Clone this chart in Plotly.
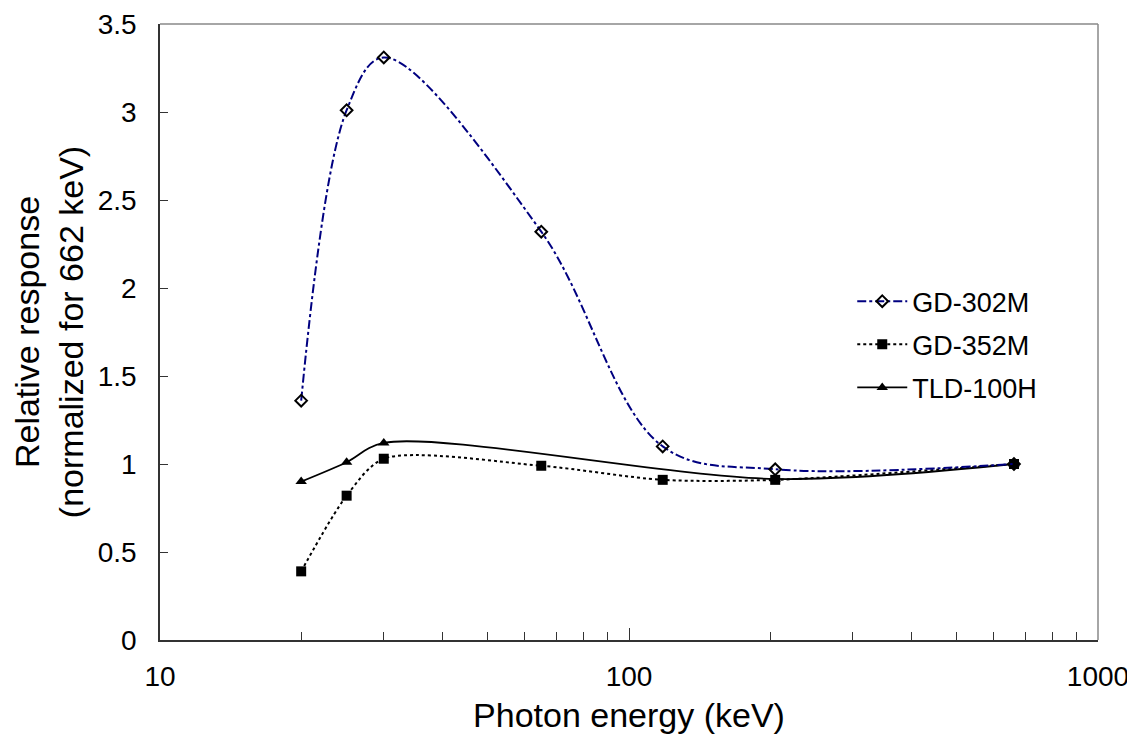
import plotly.graph_objects as go

energy = [20, 25, 30, 65, 118, 205, 662]
gd302m = [1.36, 3.01, 3.31, 2.32, 1.10, 0.97, 1.00]
gd352m = [0.39, 0.82, 1.03, 0.99, 0.91, 0.91, 1.00]
tld_energy = [20, 25, 30, 205, 662]
tld100h = [0.90, 1.01, 1.12, 0.915, 1.00]

minor_ticks = [20, 30, 40, 50, 60, 70, 80, 90, 200, 300, 400, 500, 600, 700, 800, 900]

font_family = "Liberation Sans, Arial, sans-serif"

fig = go.Figure()
# drawn first so squares sit on top of it
fig.add_trace(go.Scatter(
    x=tld_energy, y=tld100h, name="TLD-100H", mode="lines+markers",
    legendrank=3, legendgroup="c",
    line=dict(color="black", width=1.8, shape="spline", smoothing=0.9),
    marker=dict(symbol="triangle-up", size=10, color="black"),
))
fig.add_trace(go.Scatter(
    x=energy, y=gd352m, name="GD-352M", mode="lines+markers",
    legendrank=2, legendgroup="b",
    line=dict(color="black", width=2, dash="dot", shape="spline", smoothing=0.8),
    marker=dict(symbol="square", size=10, color="black"),
))
fig.add_trace(go.Scatter(
    x=energy, y=gd302m, name="GD-302M", mode="lines+markers",
    legendrank=1, legendgroup="a",
    line=dict(color="#000080", width=2, dash="dashdot", shape="spline", smoothing=1.0),
    marker=dict(symbol="diamond-open", size=9, color="black", line=dict(width=2, color="black")),
))

# page body has an 8px default margin: compensate in figure size/margins
fig.update_layout(
    width=1127, height=733,
    margin=dict(l=152, r=37, t=16, b=101, autoexpand=False),
    plot_bgcolor="white", paper_bgcolor="white",
    font=dict(family=font_family, color="black"),
    showlegend=True,
    legend=dict(x=0.738, y=0.589, xanchor="left", yanchor="top",
                font=dict(size=27, family=font_family), bgcolor="rgba(0,0,0,0)",
                tracegroupgap=5, itemwidth=50, traceorder="grouped"),
    xaxis=dict(
        type="log", range=[1, 3], automargin=False,
        showgrid=False, zeroline=False,
        showline=True, linecolor="#333333", linewidth=1.5,
        ticks="inside", ticklen=12, tickcolor="#333333",
        tickvals=[10, 100, 1000], ticktext=["10", "100", "1000"],
        tickfont=dict(size=28), ticklabelstandoff=11,
        minor=dict(ticks="inside", ticklen=8, tickcolor="#333333", tickvals=minor_ticks, showgrid=False),
        title=dict(text="Photon energy (keV)", font=dict(size=34), standoff=12),
    ),
    yaxis=dict(
        range=[0, 3.5], automargin=False,
        showgrid=False, zeroline=False,
        showline=True, linecolor="#333333", linewidth=1.5,
        ticks="inside", ticklen=8, tickcolor="#333333",
        tickfont=dict(size=28), ticklabelstandoff=16,
        tickvals=[0, 0.5, 1, 1.5, 2, 2.5, 3, 3.5],
        ticktext=["0", "0.5", "1", "1.5", "2", "2.5", "3", "3.5"],
        title=dict(text="Relative response<br>(normalized for 662 keV)", font=dict(size=34), standoff=13),
    ),
    shapes=[
        dict(type="line", xref="x domain", yref="y domain", x0=0, x1=1, y0=1, y1=1,
             line=dict(color="#888888", width=1.5)),
        dict(type="line", xref="x domain", yref="y domain", x0=1, x1=1, y0=0, y1=1,
             line=dict(color="#888888", width=1.5)),
    ],
)
fig.write_html("out.html")
